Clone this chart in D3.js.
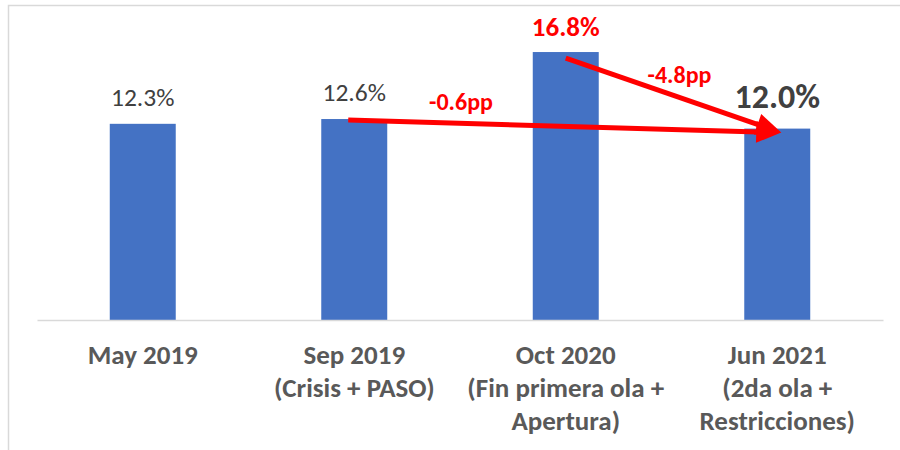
<!DOCTYPE html>
<html>
<head>
<meta charset="utf-8">
<script src="https://cdn.jsdelivr.net/npm/d3@7"></script>
<style>
  body { margin: 0; background: #fff; }
  svg { display: block; font-family: Carlito, Calibri, Lato, sans-serif; }
</style>
</head>
<body>
<div id="grafico"></div>
<script>
/*--- datos ---*/
let categorias = ["May 2019", "Sep 2019", "Oct 2020", "Jun 2021"]
let subtitulos = [[], ["(Crisis + PASO)"], ["(Fin primera ola +", "Apertura)"], ["(2da ola +", "Restricciones)"]]
let valores = [12.3, 12.6, 16.8, 12.0]
let etiquetas = ["12.3%", "12.6%", "16.8%", "12.0%"]
let cambios_desde = [1, 2]
let cambios_hasta = [3, 3]
let cambios_texto = ["-0.6pp", "-4.8pp"]

/*--- variables tecnicas ---*/
let width = 900
let height = 450
let rojo = "#FF0000"

let svg = d3.select("div#grafico").append("svg")
    .attr("width", width).attr("height", height)

// marco de la figura
svg.append("path")
    .attr("d", "M8.5,450 L8.5,5.5 L900,5.5")
    .attr("fill", "none")
    .attr("stroke", "#d9d9d9")
    .attr("stroke-width", 1.5)

let x = d3.scaleBand()
    .domain(categorias)
    .range([37, 883])
    .paddingInner(0.688)
    .paddingOuter(0.344)

let y = d3.scaleLinear()
    .domain([0, 20])
    .range([320, 1])

let centro = i => x(categorias[i]) + x.bandwidth() / 2

/*--- barras ---*/
svg.append("g")
    .selectAll("rect")
    .data(valores)
    .enter().append("rect")
    .attr("x", (d, i) => x(categorias[i]))
    .attr("y", d => y(d))
    .attr("width", x.bandwidth())
    .attr("height", d => y(0) - y(d))
    .attr("fill", "#4472C4")

// eje x
let eje = svg.append("g")
    .attr("transform", "translate(0," + y(0) + ")")
    .call(d3.axisBottom(x).tickSize(0).tickFormat(""))
eje.select(".domain").attr("stroke", "#d9d9d9").attr("stroke-width", 1.5)

let nombres = svg.append("g")
    .selectAll("text")
    .data(categorias)
    .enter().append("text")
    .attr("x", d => x(d) + x.bandwidth() / 2)
    .attr("y", 364)
    .attr("text-anchor", "middle")
    .attr("font-size", 27)
    .attr("font-weight", 700)
    .attr("fill", "#595959")

nombres.each(function (d, i) {
    let t = d3.select(this)
    t.append("tspan").attr("x", centro(i)).text(d)
    subtitulos[i].forEach(function (s) {
        t.append("tspan").attr("x", centro(i)).attr("dy", 33).text(s)
    })
})

/*--- etiquetas de valores ---*/
svg.append("g")
    .selectAll("text")
    .data(valores)
    .enter().append("text")
    .attr("x", (d, i) => centro(i))
    .attr("y", (d, i) => y(d) - (i === 3 ? 21 : i === 2 ? 16 : 18))
    .attr("text-anchor", "middle")
    .attr("font-size", (d, i) => i === 3 ? 34 : i === 2 ? 27 : 25.5)
    .attr("font-weight", (d, i) => i >= 2 ? 700 : 400)
    .attr("fill", (d, i) => i === 2 ? rojo : "#404040")
    .text((d, i) => etiquetas[i])

/*--- flechas ---*/
function flecha(x1, y1, x2, y2) {
    let dx = x2 - x1, dy = y2 - y1
    let L = Math.sqrt(dx * dx + dy * dy)
    let ux = dx / L, uy = dy / L
    let largo = 25, ancho = 11
    let bx = x2 - ux * largo, by = y2 - uy * largo
    svg.append("line")
        .attr("x1", x1).attr("y1", y1)
        .attr("x2", bx + ux * 2).attr("y2", by + uy * 2)
        .attr("stroke", rojo)
        .attr("stroke-width", 5)
    svg.append("path")
        .attr("d", "M" + x2 + "," + y2 +
            " L" + (bx - uy * ancho) + "," + (by + ux * ancho) +
            " L" + (bx + uy * ancho) + "," + (by - ux * ancho) + " Z")
        .attr("fill", rojo)
}

let punta_x = centro(3) + 4
let punta_y = y(valores[3]) + 4
flecha(centro(cambios_desde[0]) - 6, y(valores[cambios_desde[0]]) + 1, punta_x, punta_y)
flecha(centro(cambios_desde[1]), y(valores[cambios_desde[1]]) + 6, punta_x, punta_y)

// textos de los cambios
svg.append("text")
    .attr("x", (centro(1) + centro(2)) / 2 + 1)
    .attr("y", y(valores[1]) - 9)
    .attr("text-anchor", "middle")
    .attr("font-size", 24)
    .attr("font-weight", 700)
    .attr("fill", rojo)
    .text(cambios_texto[0])

svg.append("text")
    .attr("x", (centro(2) + centro(3)) / 2 + 8)
    .attr("y", y(valores[2]) + 31)
    .attr("text-anchor", "middle")
    .attr("font-size", 24)
    .attr("font-weight", 700)
    .attr("fill", rojo)
    .text(cambios_texto[1])
</script>
</body>
</html>
